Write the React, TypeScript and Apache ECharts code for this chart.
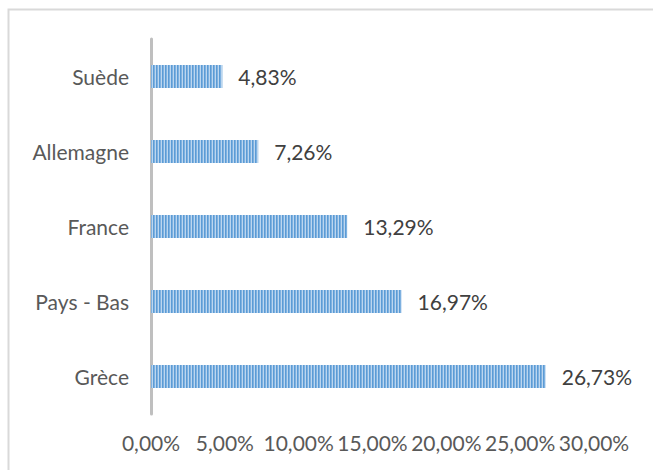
import React, { useEffect, useRef } from "react";
import * as echarts from "echarts";

const categories = ["Suède", "Allemagne", "France", "Pays - Bas", "Grèce"];
const values = [4.83, 7.26, 13.29, 16.97, 26.73];
const axisMin = 0;
const axisMax = 30;
const axisInterval = 5;

const fmt = (v: number) => v.toFixed(2).replace(".", ",") + "%";

function makePattern() {
  const c = document.createElement("canvas");
  c.width = 3;
  c.height = 4;
  const ctx = c.getContext("2d")!;
  ctx.fillStyle = "#5b9bd5";
  ctx.fillRect(0, 0, 1, 4);
  ctx.fillStyle = "#7eb1e0";
  ctx.fillRect(1, 0, 1, 4);
  ctx.fillStyle = "#bcd6ef";
  ctx.fillRect(2, 0, 1, 4);
  return c.toDataURL();
}

export default function App() {
  const ref = useRef<HTMLDivElement>(null);
  useEffect(() => {
    if (!ref.current) return;
    const chart = echarts.init(ref.current, undefined, { renderer: "svg" });
    const font = "Lato, 'Open Sans', sans-serif";
    chart.setOption({
      animation: false,
      backgroundColor: "#ffffff",
      graphic: [
        {
          type: "rect",
          shape: { x: 8.5, y: 9.5, width: 700, height: 520 },
          style: { fill: "none", stroke: "#d9d9d9", lineWidth: 2 },
          z: -1,
        },
      ],
      grid: { left: 151, right: 59, top: 39, bottom: 56 },
      xAxis: {
        type: "value",
        min: axisMin,
        max: axisMax,
        interval: axisInterval,
        axisLine: { show: false },
        axisTick: { show: false },
        splitLine: { show: false },
        axisLabel: {
          formatter: (v: number) => fmt(v),
          color: "#595959",
          fontFamily: font,
          fontSize: 21,
          margin: 18,
        },
      },
      yAxis: {
        type: "category",
        data: categories,
        inverse: true,
        axisLine: { show: true, lineStyle: { color: "#bfbfbf", width: 3 } },
        axisTick: { show: false },
        axisLabel: {
          color: "#595959",
          fontFamily: font,
          fontSize: 21,
          margin: 22,
        },
      },
      series: [
        {
          type: "bar",
          data: values,
          barWidth: 23,
          itemStyle: {
            color: {
              image: makePattern(),
              repeat: "repeat",
              imageWidth: 3,
              imageHeight: 4,
            },
          },
          label: {
            show: true,
            position: "right",
            distance: 16,
            formatter: (p: any) => fmt(p.value),
            color: "#404040",
            fontFamily: font,
            fontSize: 21,
          },
        },
      ],
    });
    return () => chart.dispose();
  }, []);
  return (
    <div
      ref={ref}
      style={{ position: "absolute", left: 0, top: 0, width: 653, height: 470 }}
    />
  );
}
